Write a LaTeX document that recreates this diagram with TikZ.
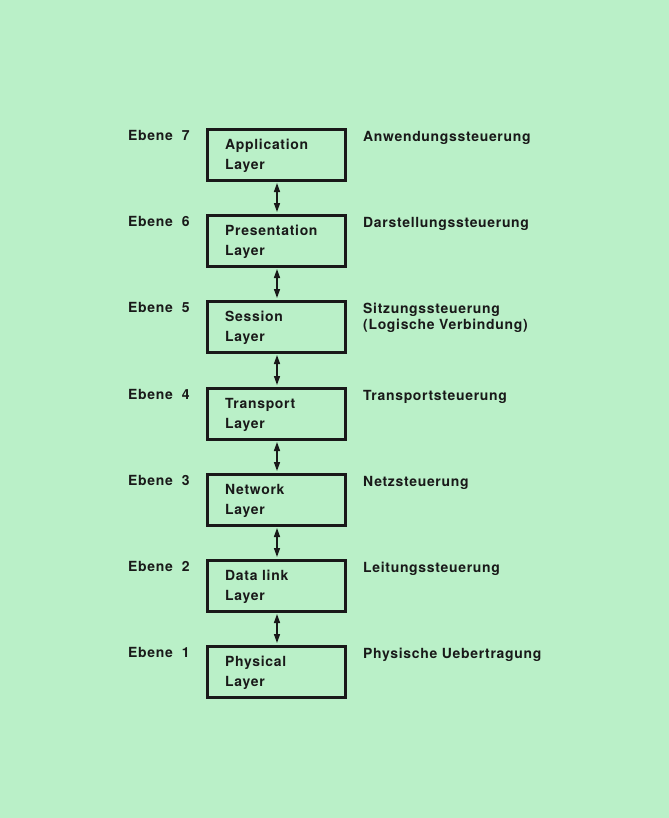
\documentclass[tikz,border=0pt]{standalone}
\usepackage{fontspec}
\setmainfont[LetterSpace=5]{TeX Gyre Heros}
\usetikzlibrary{arrows.meta}
\definecolor{bg}{RGB}{186,240,200}
\definecolor{ink}{RGB}{25,25,25}
\tikzset{
  layerbox/.style={draw=ink, line width=3bp, minimum width=138bp, minimum height=51bp, inner sep=0pt},
  lbl/.style={font=\fontsize{14}{17}\bfseries, text=ink, inner sep=0pt, anchor=base west},
  link/.style={draw=ink, line width=1.5bp, {Triangle[width=6bp,length=9bp]}-{Triangle[width=6bp,length=9bp]}, shorten <=1.5bp, shorten >=1.5bp}
}
\begin{document}
\begin{tikzpicture}[x=1bp,y=-1bp]
\fill[bg] (0,0) rectangle (669,818);
\useasboundingbox (0,0) rectangle (669,818);
% boxes: tops 129,215,301,388,474,560,646
\foreach \n/\t/\a/\b/\ebene/\r in {
  7/129/Application/Layer/Ebene\ \ 7/Anwendungssteuerung,
  6/215/Presentation/Layer/Ebene\ \ 6/Darstellungssteuerung,
  5/301/Session/Layer/Ebene\ \ 5/Sitzungssteuerung,
  4/388/Transport/Layer/Ebene\ \ 4/Transportsteuerung,
  3/474/Network/Layer/Ebene\ \ 3/Netzsteuerung,
  2/560/Data link/Layer/Ebene\ \ 2/Leitungssteuerung,
  1/646/Physical/Layer/Ebene\ \ 1/Physische Uebertragung}{
  \node[layerbox] (b\n) at (276,\t+25.5) {};
  \node[lbl] (ta\n) at (225,\t+20) {\a};
  \node[lbl] (tb\n) at (225,\t+40) {\b};
  \node[lbl] (e\n) at (128,\t+11) {\ebene};
  \node[lbl] (r\n) at (363,\t+12) {\r};
}
\node[lbl] (r5b) at (363,301+28) {(Logische Verbindung)};
\foreach \u/\l in {7/6,6/5,5/4,4/3,3/2,2/1}{
  \draw[link] ([xshift=1bp]b\u.south) -- ([xshift=1bp]b\l.north);
}
\end{tikzpicture}
\end{document}
